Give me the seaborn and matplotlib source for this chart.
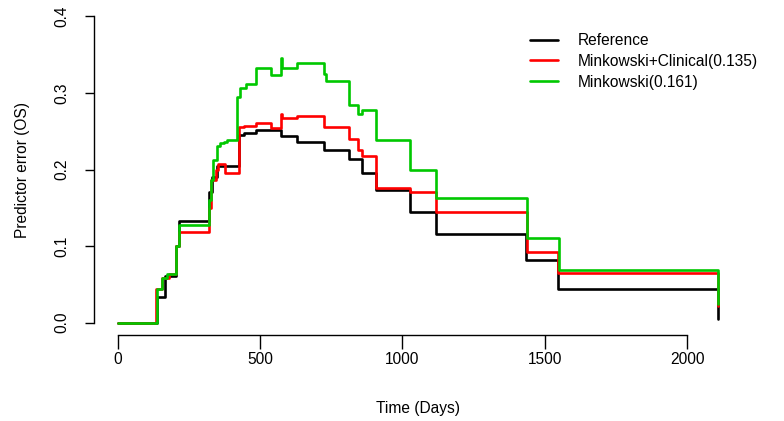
import numpy as np
import pandas as pd
import matplotlib
matplotlib.use("Agg")
import matplotlib.pyplot as plt
import seaborn as sns
from matplotlib import font_manager

# Prediction error curves (step functions, value holds until next time)
ref_days = [0, 137, 167, 204, 215, 320, 331, 349, 426, 444, 486, 574, 630,
            725, 813, 856, 908, 1028, 1116, 1433, 1546, 2109]
ref_err = [0.0, 0.033, 0.061, 0.100, 0.133, 0.170, 0.190, 0.205, 0.245, 0.248,
           0.251, 0.244, 0.236, 0.225, 0.214, 0.195, 0.173, 0.145, 0.116,
           0.082, 0.044, 0.005]

clin_days = [0, 134, 155, 180, 204, 215, 320, 327, 345, 352, 377, 426, 444,
             486, 539, 574, 577, 630, 725, 813, 842, 856, 908, 1028, 1116,
             1437, 1546, 2109]
clin_err = [0.0, 0.044, 0.059, 0.064, 0.100, 0.118, 0.150, 0.186, 0.199,
            0.207, 0.196, 0.255, 0.257, 0.261, 0.254, 0.272, 0.267, 0.270,
            0.255, 0.240, 0.225, 0.217, 0.176, 0.171, 0.145, 0.092, 0.065,
            0.022]

mink_days = [0, 137, 155, 172, 204, 215, 320, 327, 334, 349, 359, 373, 384,
             419, 430, 451, 486, 539, 574, 577, 630, 725, 732, 813, 842, 856,
             908, 1028, 1116, 1437, 1549, 2109]
mink_err = [0.0, 0.044, 0.059, 0.064, 0.100, 0.128, 0.160, 0.186, 0.212,
            0.231, 0.234, 0.236, 0.239, 0.295, 0.306, 0.312, 0.332, 0.323,
            0.346, 0.332, 0.339, 0.325, 0.316, 0.284, 0.273, 0.278, 0.239,
            0.199, 0.163, 0.110, 0.069, 0.025]

labels = ["Reference", "Minkowski+Clinical(0.135)", "Minkowski(0.161)"]
colors = ["black", "#FF0000", "#00C800"]

df = pd.concat([
    pd.DataFrame({"days": ref_days, "error": ref_err, "model": labels[0]}),
    pd.DataFrame({"days": clin_days, "error": clin_err, "model": labels[1]}),
    pd.DataFrame({"days": mink_days, "error": mink_err, "model": labels[2]}),
], ignore_index=True)

sns.set_style("ticks")
names = {f.name for f in font_manager.fontManager.ttflist}
if "Liberation Sans Narrow" in names:
    fam, fs = "Liberation Sans Narrow", 12.9
else:
    fam, fs = "Liberation Sans", 11.2
plt.rcParams["font.family"] = [fam, "DejaVu Sans"]
plt.rcParams["text.color"] = "black"
plt.rcParams["axes.labelcolor"] = "black"

fig = plt.figure(figsize=(7.84, 4.21), dpi=100)
ax = fig.add_axes([94 / 784, (421 - 335) / 421, (742 - 94) / 784, (335 - 4) / 421])

sns.lineplot(data=df, x="days", y="error", hue="model", hue_order=labels,
             palette=colors, estimator=None, sort=False,
             drawstyle="steps-post", linewidth=1.9, legend=False, ax=ax)

ax.set_xlim(-84, 2193)
ax.set_ylim(-0.016, 0.416)
ax.set_xticks([0, 500, 1000, 1500, 2000])
ax.set_yticks([0.0, 0.1, 0.2, 0.3, 0.4])
ax.set_yticklabels(["0.0", "0.1", "0.2", "0.3", "0.4"])
sns.despine(ax=ax)
ax.spines["bottom"].set_bounds(0, 2000)
ax.spines["left"].set_bounds(0, 0.4)
for s in ["bottom", "left"]:
    ax.spines[s].set_linewidth(1.0)
    ax.spines[s].set_color("black")

ax.tick_params(axis="x", length=10, width=1.0, pad=2, labelsize=fs, colors="black")
ax.tick_params(axis="y", length=6.5, width=1.0, pad=11, labelsize=fs,
               colors="black", labelrotation=90)
for t in ax.get_yticklabels():
    t.set_va("center")

ax.set_xlabel("Time (Days)", fontsize=fs)
ax.set_ylabel("Predictor error (OS)", fontsize=fs)
ax.xaxis.set_label_coords((418 - 94) / 648, -(401 - 335) / 331)
ax.yaxis.set_label_coords(-(94 - 30) / 648, (335 - 170) / 331)

ax.legend(ax.lines[:3], labels, loc="upper left", frameon=False,
          bbox_to_anchor=(530 / 784, 1 - 33 / 421), bbox_transform=fig.transFigure,
          borderpad=0, borderaxespad=0, handlelength=1.8, handletextpad=1.3,
          labelspacing=0.38, fontsize=fs)

fig.savefig("out.png", dpi=100)
